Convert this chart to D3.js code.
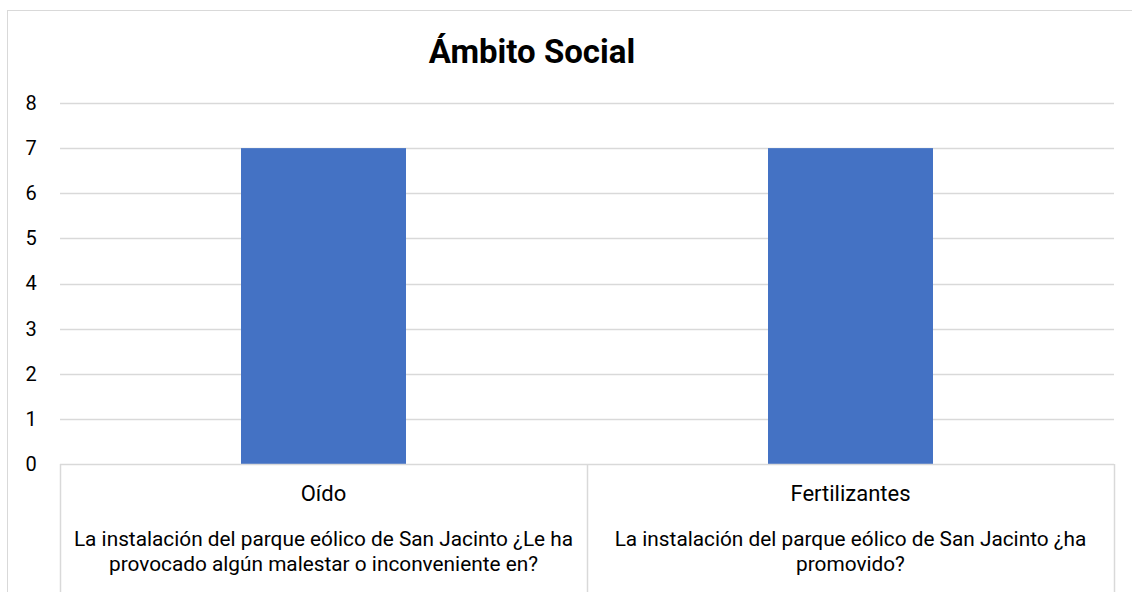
<!DOCTYPE html>
<html>
<head>
<meta charset="utf-8">
<script src="https://cdn.jsdelivr.net/npm/d3@7"></script>
<style>
  body { margin: 0; background: #fff; }
  text { font-family: Roboto, "Liberation Sans", sans-serif; fill: #000; }
</style>
</head>
<body>
<svg id="chart" width="1132" height="592"></svg>
<script>
// data
var categories = ["Oído", "Fertilizantes"];
var values = [7, 7];
var groupLabels = [
    ["La instalación del parque eólico de San Jacinto ¿Le ha", "provocado algún malestar o inconveniente en?"],
    ["La instalación del parque eólico de San Jacinto ¿ha", "promovido?"]
];
var yTicks = [0, 1, 2, 3, 4, 5, 6, 7, 8];
var title = "Ámbito Social";

var margin = {top: 103, right: 18, bottom: 128, left: 60},
    width = 1132 - margin.left - margin.right,
    height = 592 - margin.top - margin.bottom;

var svg = d3.select("#chart");

// outer frame (runs off the right/bottom edge like the reference)
svg.append("rect")
    .attr("x", 7.5).attr("y", 10.5)
    .attr("width", 1140).attr("height", 600)
    .attr("fill", "none")
    .attr("stroke", "#d9d9d9");

svg.append("text")
    .attr("x", 532)
    .attr("y", 63)
    .attr("text-anchor", "middle")
    .style("font-size", "33px")
    .style("font-weight", "bold")
    .text(title);

var g = svg.append("g")
    .attr("transform", "translate(" + margin.left + "," + margin.top + ")");

var x = d3.scaleBand()
    .domain(categories)
    .range([0, width])
    .paddingInner(0)
    .paddingOuter(0);

var y = d3.scaleLinear()
    .domain([0, 8])
    .range([height, 0]);

// gridlines
g.append("g")
    .selectAll("line")
    .data(yTicks.filter(function(d) { return d > 0; }))
    .enter()
    .append("line")
    .attr("x1", 0).attr("x2", width)
    .attr("y1", function(d) { return Math.round(y(d)) + 0.5; })
    .attr("y2", function(d) { return Math.round(y(d)) + 0.5; })
    .attr("stroke", "#d9d9d9")
    .attr("stroke-width", 1.5);

// y axis labels
var yAxis = g.append("g")
    .attr("transform", "translate(-29,0)")
    .call(d3.axisLeft(y).tickValues(yTicks).tickSize(0).tickPadding(0));
yAxis.select(".domain").remove();
yAxis.selectAll("text")
    .attr("text-anchor", "middle")
    .style("font-family", "Roboto, sans-serif")
    .style("font-size", "20px")
    .attr("fill", "#000");

// bars
var barW = 165;
g.append("g")
    .selectAll("rect")
    .data(values)
    .enter()
    .append("rect")
    .attr("x", function(d, i) { return x(categories[i]) + x.bandwidth() / 2 - barW / 2; })
    .attr("y", function(d) { return y(d); })
    .attr("width", barW)
    .attr("height", function(d) { return height - y(d); })
    .attr("fill", "#4472c4");

// category axis with group boxes
var xAxis = g.append("g")
    .attr("transform", "translate(0," + height + ")");
xAxis.append("line")
    .attr("x1", 0).attr("x2", width)
    .attr("y1", 0.5).attr("y2", 0.5)
    .attr("stroke", "#d9d9d9").attr("stroke-width", 1.5);

var bounds = categories.map(function(c) { return x(c); }).concat([width]);
xAxis.selectAll(".sep")
    .data(bounds)
    .enter()
    .append("line")
    .attr("class", "sep")
    .attr("x1", function(d) { return Math.round(d) + 0.5; })
    .attr("x2", function(d) { return Math.round(d) + 0.5; })
    .attr("y1", 0).attr("y2", 140)
    .attr("stroke", "#d9d9d9").attr("stroke-width", 1.5);

xAxis.selectAll(".cat")
    .data(categories)
    .enter()
    .append("text")
    .attr("class", "cat")
    .attr("x", function(d) { return x(d) + x.bandwidth() / 2; })
    .attr("y", 37)
    .attr("text-anchor", "middle")
    .style("font-size", "22px")
    .text(function(d) { return d; });

groupLabels.forEach(function(lines, i) {
    var t = xAxis.append("text")
        .attr("text-anchor", "middle")
        .style("font-size", "20.8px");
    lines.forEach(function(line, j) {
        t.append("tspan")
            .attr("x", x(categories[i]) + x.bandwidth() / 2)
            .attr("y", 82 + j * 24.5)
            .text(line);
    });
});
</script>
</body>
</html>
